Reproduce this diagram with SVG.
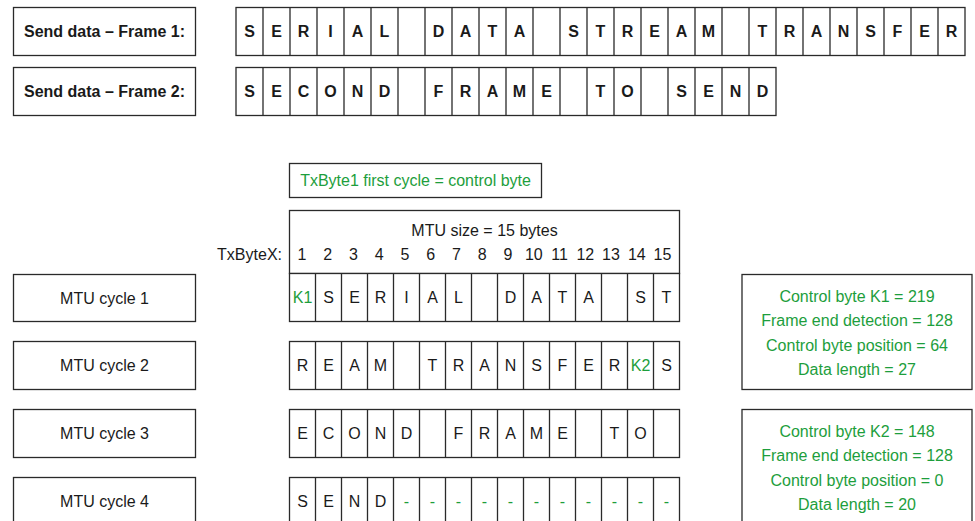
<svg xmlns="http://www.w3.org/2000/svg" width="975" height="521" viewBox="0 0 975 521">
<style>
.b{fill:#fff;stroke:#2a2a2a;stroke-width:1.3}
.ln{stroke:#2a2a2a;stroke-width:1.3}
.t{font-family:"Liberation Sans",Arial,sans-serif;font-size:16px;fill:#1a1a1a;text-anchor:middle}
.bd{font-weight:bold}
.g{fill:#1d9e3c}
.r{text-anchor:end}
</style>
<rect width="975" height="521" fill="#fff"/>
<g id="frame1-label"><rect class="b" x="13.5" y="7.5" width="182" height="48"/><text class="t bd" x="104.5" y="37">Send data – Frame 1:</text></g>
<g id="frame2-label"><rect class="b" x="13.5" y="67.5" width="182" height="48"/><text class="t bd" x="104.5" y="97">Send data – Frame 2:</text></g>
<g id="frame1-data">
<rect class="b" x="236" y="7.5" width="729" height="48"/>
<path class="ln" d="M263 7.5V55.5M290 7.5V55.5M317 7.5V55.5M344 7.5V55.5M371 7.5V55.5M398 7.5V55.5M425 7.5V55.5M452 7.5V55.5M479 7.5V55.5M506 7.5V55.5M533 7.5V55.5M560 7.5V55.5M587 7.5V55.5M614 7.5V55.5M641 7.5V55.5M668 7.5V55.5M695 7.5V55.5M722 7.5V55.5M749 7.5V55.5M776 7.5V55.5M803 7.5V55.5M830 7.5V55.5M857 7.5V55.5M884 7.5V55.5M911 7.5V55.5M938 7.5V55.5"/>
<g class="t bd">
<text x="249.5" y="37">S</text><text x="276.5" y="37">E</text><text x="303.5" y="37">R</text><text x="330.5" y="37">I</text><text x="357.5" y="37">A</text><text x="384.5" y="37">L</text>
<text x="438.5" y="37">D</text><text x="465.5" y="37">A</text><text x="492.5" y="37">T</text><text x="519.5" y="37">A</text>
<text x="573.5" y="37">S</text><text x="600.5" y="37">T</text><text x="627.5" y="37">R</text><text x="654.5" y="37">E</text><text x="681.5" y="37">A</text><text x="708.5" y="37">M</text>
<text x="762.5" y="37">T</text><text x="789.5" y="37">R</text><text x="816.5" y="37">A</text><text x="843.5" y="37">N</text><text x="870.5" y="37">S</text><text x="897.5" y="37">F</text><text x="924.5" y="37">E</text><text x="951.5" y="37">R</text>
</g>
</g>
<g id="frame2-data">
<rect class="b" x="236" y="67.5" width="540" height="48"/>
<path class="ln" d="M263 67.5V115.5M290 67.5V115.5M317 67.5V115.5M344 67.5V115.5M371 67.5V115.5M398 67.5V115.5M425 67.5V115.5M452 67.5V115.5M479 67.5V115.5M506 67.5V115.5M533 67.5V115.5M560 67.5V115.5M587 67.5V115.5M614 67.5V115.5M641 67.5V115.5M668 67.5V115.5M695 67.5V115.5M722 67.5V115.5M749 67.5V115.5"/>
<g class="t bd">
<text x="249.5" y="97">S</text><text x="276.5" y="97">E</text><text x="303.5" y="97">C</text><text x="330.5" y="97">O</text><text x="357.5" y="97">N</text><text x="384.5" y="97">D</text>
<text x="438.5" y="97">F</text><text x="465.5" y="97">R</text><text x="492.5" y="97">A</text><text x="519.5" y="97">M</text><text x="546.5" y="97">E</text>
<text x="600.5" y="97">T</text><text x="627.5" y="97">O</text>
<text x="681.5" y="97">S</text><text x="708.5" y="97">E</text><text x="735.5" y="97">N</text><text x="762.5" y="97">D</text>
</g>
</g>
<g id="txbyte1-note"><rect class="b" x="289.5" y="163.5" width="252" height="34"/><text class="t g" x="415.5" y="186">TxByte1 first cycle = control byte</text></g>
<g id="mtu-header">
<rect class="b" x="289.5" y="210.5" width="390" height="63"/>
<text class="t" x="484.5" y="236">MTU size = 15 bytes</text>
<text class="t r" x="282" y="260">TxByteX:</text>
<g class="t">
<text x="302" y="260">1</text><text x="327.8" y="260">2</text><text x="353.5" y="260">3</text><text x="379.3" y="260">4</text><text x="405" y="260">5</text><text x="430.8" y="260">6</text><text x="456.5" y="260">7</text><text x="482.3" y="260">8</text><text x="508" y="260">9</text><text x="533.8" y="260">10</text><text x="559.5" y="260">11</text><text x="585.3" y="260">12</text><text x="611" y="260">13</text><text x="636.8" y="260">14</text><text x="662.5" y="260">15</text>
</g>
</g>
<g id="mtu-row1">
<rect class="b" x="289.5" y="273.5" width="390" height="48"/>
<path class="ln" d="M315.5 273.5V321.5M341.5 273.5V321.5M367.5 273.5V321.5M393.5 273.5V321.5M419.5 273.5V321.5M445.5 273.5V321.5M471.5 273.5V321.5M497.5 273.5V321.5M523.5 273.5V321.5M549.5 273.5V321.5M575.5 273.5V321.5M601.5 273.5V321.5M627.5 273.5V321.5M653.5 273.5V321.5"/>
<g class="t">
<text class="g" x="302.5" y="303">K1</text><text x="328.5" y="303">S</text><text x="354.5" y="303">E</text><text x="380.5" y="303">R</text><text x="406.5" y="303">I</text><text x="432.5" y="303">A</text><text x="458.5" y="303">L</text>
<text x="510.5" y="303">D</text><text x="536.5" y="303">A</text><text x="562.5" y="303">T</text><text x="588.5" y="303">A</text>
<text x="640.5" y="303">S</text><text x="666.5" y="303">T</text>
</g>
</g>
<g id="mtu-row2">
<rect class="b" x="289.5" y="341.5" width="390" height="48"/>
<path class="ln" d="M315.5 341.5V389.5M341.5 341.5V389.5M367.5 341.5V389.5M393.5 341.5V389.5M419.5 341.5V389.5M445.5 341.5V389.5M471.5 341.5V389.5M497.5 341.5V389.5M523.5 341.5V389.5M549.5 341.5V389.5M575.5 341.5V389.5M601.5 341.5V389.5M627.5 341.5V389.5M653.5 341.5V389.5"/>
<g class="t">
<text x="302.5" y="371">R</text><text x="328.5" y="371">E</text><text x="354.5" y="371">A</text><text x="380.5" y="371">M</text>
<text x="432.5" y="371">T</text><text x="458.5" y="371">R</text><text x="484.5" y="371">A</text><text x="510.5" y="371">N</text><text x="536.5" y="371">S</text><text x="562.5" y="371">F</text><text x="588.5" y="371">E</text><text x="614.5" y="371">R</text><text class="g" x="640.5" y="371">K2</text><text x="666.5" y="371">S</text>
</g>
</g>
<g id="mtu-row3">
<rect class="b" x="289.5" y="409.5" width="390" height="48"/>
<path class="ln" d="M315.5 409.5V457.5M341.5 409.5V457.5M367.5 409.5V457.5M393.5 409.5V457.5M419.5 409.5V457.5M445.5 409.5V457.5M471.5 409.5V457.5M497.5 409.5V457.5M523.5 409.5V457.5M549.5 409.5V457.5M575.5 409.5V457.5M601.5 409.5V457.5M627.5 409.5V457.5M653.5 409.5V457.5"/>
<g class="t">
<text x="302.5" y="439">E</text><text x="328.5" y="439">C</text><text x="354.5" y="439">O</text><text x="380.5" y="439">N</text><text x="406.5" y="439">D</text>
<text x="458.5" y="439">F</text><text x="484.5" y="439">R</text><text x="510.5" y="439">A</text><text x="536.5" y="439">M</text><text x="562.5" y="439">E</text>
<text x="614.5" y="439">T</text><text x="640.5" y="439">O</text>
</g>
</g>
<g id="mtu-row4">
<rect class="b" x="289.5" y="477.5" width="390" height="50"/>
<path class="ln" d="M315.5 477.5V527M341.5 477.5V527M367.5 477.5V527M393.5 477.5V527M419.5 477.5V527M445.5 477.5V527M471.5 477.5V527M497.5 477.5V527M523.5 477.5V527M549.5 477.5V527M575.5 477.5V527M601.5 477.5V527M627.5 477.5V527M653.5 477.5V527"/>
<g class="t">
<text x="302.5" y="507">S</text><text x="328.5" y="507">E</text><text x="354.5" y="507">N</text><text x="380.5" y="507">D</text>
</g>
<g class="t g">
<text x="406.5" y="507">-</text><text x="432.5" y="507">-</text><text x="458.5" y="507">-</text><text x="484.5" y="507">-</text><text x="510.5" y="507">-</text><text x="536.5" y="507">-</text><text x="562.5" y="507">-</text><text x="588.5" y="507">-</text><text x="614.5" y="507">-</text><text x="640.5" y="507">-</text><text x="666.5" y="507">-</text>
</g>
</g>
<g id="mtu-cycle1"><rect class="b" x="13.5" y="274.5" width="182" height="47"/><text class="t" x="104.5" y="303.5">MTU cycle 1</text></g>
<g id="mtu-cycle2"><rect class="b" x="13.5" y="341.5" width="182" height="48"/><text class="t" x="104.5" y="371">MTU cycle 2</text></g>
<g id="mtu-cycle3"><rect class="b" x="13.5" y="409.5" width="182" height="48"/><text class="t" x="104.5" y="439">MTU cycle 3</text></g>
<g id="mtu-cycle4"><rect class="b" x="13.5" y="477.5" width="182" height="50"/><text class="t" x="104.5" y="507">MTU cycle 4</text></g>
<g id="info-k1">
<rect class="b" x="742" y="274.5" width="230" height="115"/>
<g class="t g"><text x="857" y="301.5">Control byte K1 = 219</text><text x="857" y="326">Frame end detection = 128</text><text x="857" y="350.5">Control byte position = 64</text><text x="857" y="375">Data length = 27</text></g>
</g>
<g id="info-k2">
<rect class="b" x="742" y="409.5" width="230" height="118"/>
<g class="t g"><text x="857" y="436.5">Control byte K2 = 148</text><text x="857" y="461">Frame end detection = 128</text><text x="857" y="485.5">Control byte position = 0</text><text x="857" y="510">Data length = 20</text></g>
</g>
<g id="connectors"/>
</svg>
